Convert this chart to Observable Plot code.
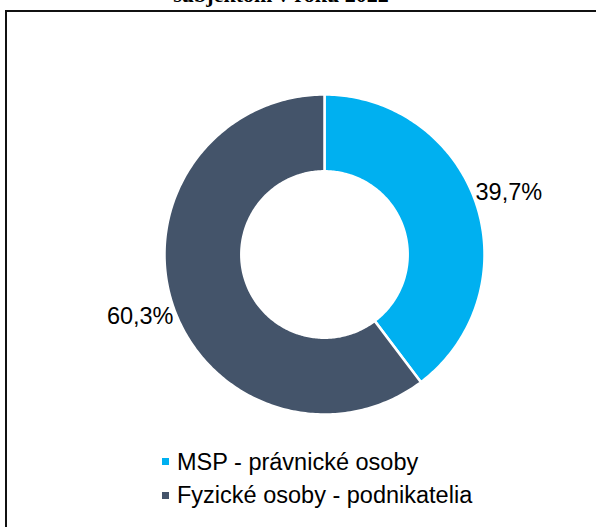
<!DOCTYPE html>
<html><head><meta charset="utf-8">
<script src="https://cdn.jsdelivr.net/npm/d3@7"></script>
<script src="https://cdn.jsdelivr.net/npm/@observablehq/plot@0.6"></script>
<style>
body{margin:0;width:596px;height:527px;overflow:hidden;background:#fff;position:relative;font-family:"Liberation Sans",Arial,sans-serif}
#title{position:absolute;left:0;width:562px;top:-16px;text-align:center;font-family:"Liberation Serif","Times New Roman",serif;font-weight:bold;font-size:22px;line-height:22px;color:#000;white-space:nowrap}
#frame{position:absolute;left:5px;top:10px;width:700px;height:700px;border:2px solid #111;box-sizing:border-box}
#chart{position:absolute;left:0;top:40px}
.leg{position:absolute;font-size:23.5px;line-height:23.5px;color:#000;white-space:nowrap}
.sw{position:absolute;width:7px;height:7px}
</style></head><body>
<div id="title"></div>
<div id="frame"></div>
<div id="chart"></div>
<div id="legend"></div>
<script>
const titleText = "subjektom v roku 2022";
const categories = ["MSP - právnické osoby", "Fyzické osoby - podnikatelia"];
const shares = [39.7, 60.3];
const valueLabels = ["39,7%", "60,3%"];
const colors = ["#00B0F0", "#44546A"];

document.getElementById("title").textContent = titleText;

const outerR = 1, innerR = 0.52, labelR = 1.215;
const total = d3.sum(shares);
const polyRows = [];
const labelRows = [];
let start = 0;
categories.forEach((cat, i) => {
  const a0 = start / total * 2 * Math.PI;
  const a1 = (start + shares[i]) / total * 2 * Math.PI;
  const n = Math.max(8, Math.ceil(shares[i] * 4));
  for (let k = 0; k <= n; k++) {
    const a = a0 + (a1 - a0) * k / n;
    polyRows.push({cat, x: outerR * Math.sin(a), y: outerR * Math.cos(a)});
  }
  for (let k = n; k >= 0; k--) {
    const a = a0 + (a1 - a0) * k / n;
    polyRows.push({cat, x: innerR * Math.sin(a), y: innerR * Math.cos(a)});
  }
  const mid = (a0 + a1) / 2;
  labelRows.push({text: valueLabels[i], x: labelR * Math.sin(mid), y: labelR * Math.cos(mid)});
  start += shares[i];
});

const W = 596, H = 400, unit = 160, cx = 324, cy = 214;
const plot = Plot.plot({
  width: W, height: H,
  margin: 0,
  x: {domain: [-cx / unit, (W - cx) / unit], axis: null},
  y: {domain: [-(H - cy) / unit, cy / unit], axis: null},
  color: {domain: categories, range: colors},
  style: {fontFamily: "Liberation Sans, Arial, sans-serif", background: "transparent"},
  marks: [
    Plot.line(polyRows, {x: "x", y: "y", z: "cat", fill: "cat", stroke: "#fff", strokeWidth: 2.5, curve: "linear-closed"}),
    Plot.text(labelRows, {x: "x", y: "y", text: "text", fontSize: 23.5, fill: "#000", textAnchor: "middle"})
  ]
});
document.getElementById("chart").appendChild(plot);

const legend = document.getElementById("legend");
categories.forEach((cat, i) => {
  const sw = document.createElement("div");
  sw.className = "sw";
  sw.style.left = "162px";
  sw.style.top = (458 + i * 34) + "px";
  sw.style.background = colors[i];
  legend.appendChild(sw);
  const t = document.createElement("div");
  t.className = "leg";
  t.style.left = "177px";
  t.style.top = (451 + i * 32.5) + "px";
  t.textContent = cat;
  legend.appendChild(t);
});
</script>
</body></html>
